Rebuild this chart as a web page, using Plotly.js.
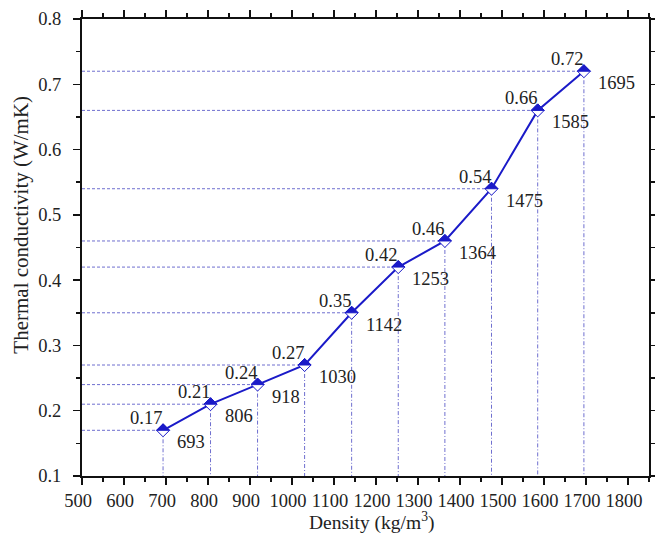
<!DOCTYPE html>
<html>
<head>
<meta charset="utf-8">
<script src="https://cdn.plot.ly/plotly-3.0.1.min.js"></script>
<style>html,body{margin:0;padding:0;background:#fff;}#chart{width:655px;height:534px;}</style>
</head>
<body>
<div id="chart"></div>
<script>
// Data
var density = [693, 806, 918, 1030, 1142, 1253, 1364, 1475, 1585, 1695];
var conductivity = [0.17, 0.21, 0.24, 0.27, 0.35, 0.42, 0.46, 0.54, 0.66, 0.72];
var xRange = [500, 1850];
var yRange = [0.1, 0.8];
var xTitle = 'Density (kg/m<sup>3</sup>)';
var yTitle = 'Thermal conductivity (W/mK)';

var blue = '#1a1ac8';
var guide = '#6f6fcf';
var serif = 'Liberation Serif, Times New Roman, serif';

// guide lines (horizontal to y-axis, vertical to x-axis)
var hx = [], hy = [], vx = [], vy = [];
for (var i = 0; i < density.length; i++) {
  hx.push(xRange[0], density[i], null);
  hy.push(conductivity[i], conductivity[i], null);
  vx.push(density[i], density[i], null);
  vy.push(conductivity[i], yRange[0], null);
}

var traces = [
  {x: hx, y: hy, mode: 'lines', line: {color: guide, width: 1, dash: '3px,2px'}, hoverinfo: 'skip', showlegend: false},
  {x: vx, y: vy, mode: 'lines', line: {color: guide, width: 1, dash: '4px,2px,1px,2px'}, hoverinfo: 'skip', showlegend: false},
  {x: density, y: conductivity, mode: 'lines+markers',
   line: {color: blue, width: 2},
   marker: {symbol: 'diamond', size: 10, color: '#ffffff', line: {color: blue, width: 1}},
   showlegend: false}
];

var shapes = [];
var annotations = [];
for (var j = 0; j < density.length; j++) {
  // filled top half of each diamond marker
  shapes.push({
    type: 'path', layer: 'above',
    xref: 'x', yref: 'y', xsizemode: 'pixel', ysizemode: 'pixel',
    xanchor: density[j], yanchor: conductivity[j],
    path: 'M-6.5,0 L0,6.5 L6.5,0 Z',
    fillcolor: blue, line: {color: blue, width: 1}
  });
  annotations.push({
    x: density[j], y: conductivity[j], xref: 'x', yref: 'y',
    text: conductivity[j].toFixed(2), showarrow: false,
    xanchor: 'right', yanchor: 'bottom', xshift: 1, yshift: 0,
    font: {family: serif, size: 18.5, color: '#222'}
  });
  annotations.push({
    x: density[j], y: conductivity[j], xref: 'x', yref: 'y',
    text: String(density[j]), showarrow: false,
    xanchor: 'left', yanchor: 'top', xshift: 12, yshift: 0,
    font: {family: serif, size: 18.5, color: '#222'}
  });
}
// axis titles placed as in the reference
annotations.push({
  xref: 'paper', yref: 'paper', x: 0, y: 0.55, xshift: -61,
  xanchor: 'center', yanchor: 'middle', textangle: -90, showarrow: false,
  text: yTitle, font: {family: serif, size: 21, color: '#222'}
});
annotations.push({
  xref: 'paper', yref: 'paper', x: 0.511, y: 0, yshift: -45,
  xanchor: 'center', yanchor: 'middle', showarrow: false,
  text: xTitle, font: {family: serif, size: 19.5, color: '#222'}
});

var axisCommon = {
  showgrid: false, zeroline: false,
  showline: true, linecolor: '#111', linewidth: 2,
  mirror: 'ticks', ticks: 'outside', ticklen: 7, tickwidth: 1.5, tickcolor: '#111',
  tickfont: {family: serif, size: 18.5, color: '#222'}
};

var layout = {
  width: 655, height: 534,
  margin: {l: 82, r: 6, t: 19, b: 58},
  paper_bgcolor: '#fff', plot_bgcolor: '#fff',
  font: {family: serif, color: '#222'},
  xaxis: Object.assign({}, axisCommon, {
    range: xRange, tick0: 500, dtick: 100,
    minor: {dtick: 50, ticks: 'outside', ticklen: 4, tickwidth: 1.5, tickcolor: '#111'},
    ticklabelshift: -4
  }),
  yaxis: Object.assign({}, axisCommon, {
    range: yRange, tick0: 0.1, dtick: 0.1, tickformat: '.1f',
    minor: {dtick: 0.05, ticks: 'outside', ticklen: 4, tickwidth: 1.5, tickcolor: '#111'},
    ticklabelstandoff: 8
  }),
  shapes: shapes,
  annotations: annotations
};

Plotly.newPlot('chart', traces, layout, {displayModeBar: false, staticPlot: true});
</script>
</body>
</html>
